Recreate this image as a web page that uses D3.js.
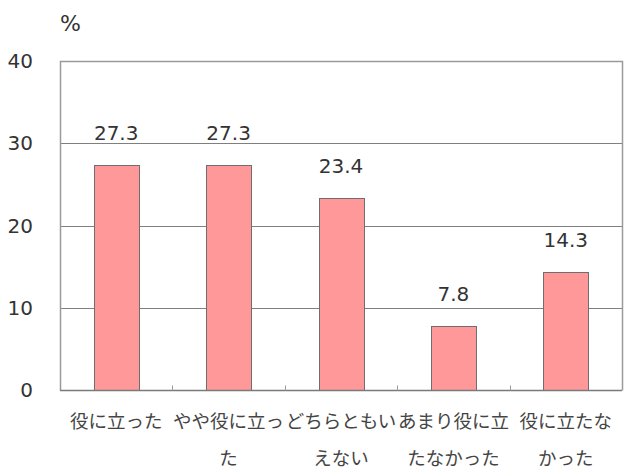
<!DOCTYPE html>
<html>
<head>
<meta charset="utf-8">
<script src="https://cdn.jsdelivr.net/npm/d3@7"></script>
<style>
  body { margin: 0; background: #fff; }
  svg { display: block; }
</style>
</head>
<body>
<div id="chart"></div>
<script>
// Chart data
const categories = ["役に立った", "やや役に立った", "どちらともいえない", "あまり役に立たなかった", "役に立たなかった"];
// Wrapped label lines as they appear under the axis
const labelLines = [
    ["役に立った"],
    ["やや役に立っ", "た"],
    ["どちらともい", "えない"],
    ["あまり役に立", "たなかった"],
    ["役に立たな", "かった"]
];
const values = [27.3, 27.3, 23.4, 7.8, 14.3];
const yTicks = [0, 10, 20, 30, 40];

const width = 629;
const height = 475;
const margin = { top: 61, right: 7, bottom: 85, left: 60 };

const svg = d3.select("#chart")
    .append("svg")
    .attr("width", width)
    .attr("height", height);

const x = d3.scaleBand()
    .domain(categories)
    .range([margin.left, width - margin.right])
    .paddingInner(0.6)
    .paddingOuter(0.3);

const y = d3.scaleLinear()
    .domain([0, 40])
    .range([height - margin.bottom, margin.top]);

const numFont = "'DejaVu Sans', Verdana, sans-serif";
const jpFont = "'Noto Sans CJK JP', sans-serif";

// Gridlines
svg.append("g")
    .selectAll("line")
    .data(yTicks.filter(d => d > 0 && d < 40))
    .enter().append("line")
    .attr("x1", margin.left)
    .attr("x2", width - margin.right)
    .attr("y1", d => Math.round(y(d)) + 0.5)
    .attr("y2", d => Math.round(y(d)) + 0.5)
    .attr("stroke", "#7f7f7f")
    .attr("stroke-width", 1);

// Plot frame (left, top, right)
const x0 = margin.left + 0.5, x1 = width - margin.right + 0.5;
const yTop = Math.round(y(40)) + 0.5, yBot = Math.round(y(0)) + 0.5;
svg.append("path")
    .attr("d", `M${x0},${yBot}V${yTop}H${x1}V${yBot}`)
    .attr("fill", "none")
    .attr("stroke", "#9a9a9a")
    .attr("stroke-width", 1.5);

// Bars
svg.append("g")
    .selectAll("rect")
    .data(values)
    .enter().append("rect")
    .attr("x", (d, i) => Math.round(x(categories[i])) + 0.5)
    .attr("y", d => Math.round(y(d)) + 0.5)
    .attr("width", Math.round(x.bandwidth()))
    .attr("height", d => Math.round(y(0)) - Math.round(y(d)))
    .attr("fill", "#ff9999")
    .attr("stroke", "#6e6e6e")
    .attr("stroke-width", 1);

// Value labels
svg.append("g")
    .selectAll("text")
    .data(values)
    .enter().append("text")
    .attr("x", (d, i) => x(categories[i]) + x.bandwidth() / 2)
    .attr("y", d => y(d) - 25)
    .attr("text-anchor", "middle")
    .style("font-family", numFont)
    .style("font-size", "20px")
    .style("fill", "#333")
    .text(d => d.toFixed(1));

// X axis with inward ticks at category boundaries
const boundaries = d3.range(1, categories.length).map(i => margin.left + i * (width - margin.left - margin.right) / categories.length);
svg.append("line")
    .attr("x1", margin.left)
    .attr("x2", width - margin.right)
    .attr("y1", yBot)
    .attr("y2", yBot)
    .attr("stroke", "#7a7a7a")
    .attr("stroke-width", 1.5);
svg.append("g")
    .selectAll("line")
    .data(boundaries)
    .enter().append("line")
    .attr("x1", d => Math.round(d) + 0.5)
    .attr("x2", d => Math.round(d) + 0.5)
    .attr("y1", yBot)
    .attr("y2", yBot - 5)
    .attr("stroke", "#9a9a9a");

// Category labels
const labels = svg.append("g")
    .selectAll("text")
    .data(labelLines)
    .enter().append("text")
    .attr("text-anchor", "middle")
    .style("font-family", jpFont)
    .style("font-size", "18.5px")
    .style("fill", "#444");
labels.each(function (lines, i) {
    const cx = x(categories[i]) + x.bandwidth() / 2;
    d3.select(this).selectAll("tspan")
        .data(lines)
        .enter().append("tspan")
        .attr("x", cx)
        .attr("y", (d, j) => 428 + j * 37)
        .text(d => d);
});

// Y tick labels
svg.append("g")
    .selectAll("text")
    .data(yTicks)
    .enter().append("text")
    .attr("x", 33)
    .attr("y", d => y(d) + 7)
    .attr("text-anchor", "end")
    .style("font-family", numFont)
    .style("font-size", "20px")
    .style("fill", "#333")
    .text(d => d);

// Unit label
svg.append("text")
    .attr("x", 60)
    .attr("y", 31)
    .style("font-family", numFont)
    .style("font-size", "22px")
    .style("fill", "#333")
    .text("%");
</script>
</body>
</html>
